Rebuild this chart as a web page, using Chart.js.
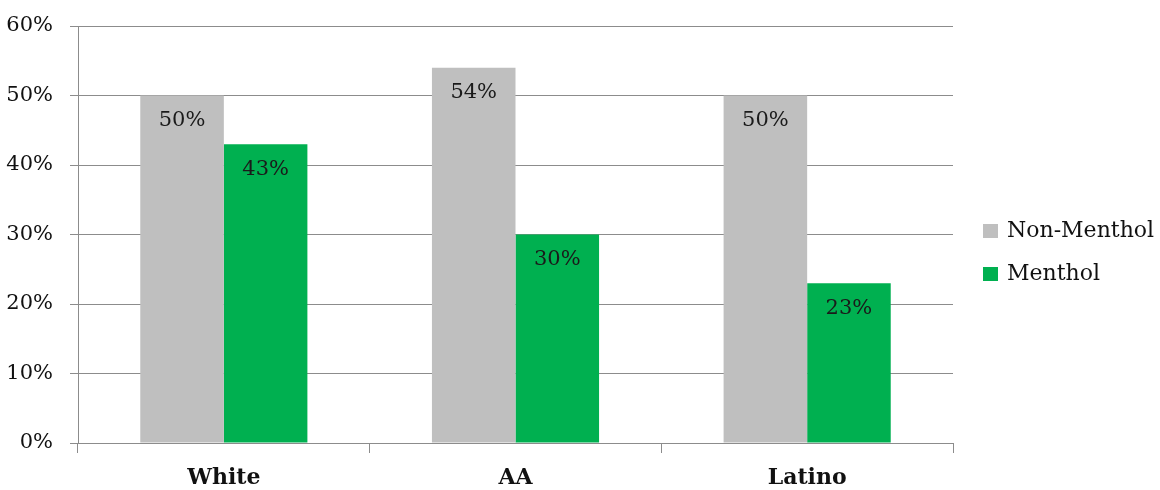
<!DOCTYPE html>
<html>
<head>
<meta charset="utf-8">
<script src="https://cdn.jsdelivr.net/npm/chart.js@4"></script>
<style>
html,body{margin:0;padding:0;background:#fff;}
#wrap{width:1160px;height:490px;position:relative;}
</style>
</head>
<body>
<div id="wrap"><canvas id="c" width="1160" height="490"></canvas></div>
<script>
const categories = ["White", "AA", "Latino"];
const nonMenthol = [50, 54, 50];
const menthol = [43, 30, 23];
const seriesNames = ["Non-Menthol", "Menthol"];
const yTicks = [0, 10, 20, 30, 40, 50, 60];

const FONT = "'DejaVu Serif', serif";
const GRID = "#8c8c8c";

const valueLabels = {
  id: "valueLabels",
  afterDatasetsDraw(chart) {
    const ctx = chart.ctx;
    ctx.save();
    ctx.font = "21px " + FONT;
    ctx.fillStyle = "#1a1a1a";
    ctx.textAlign = "center";
    ctx.textBaseline = "middle";
    chart.data.datasets.forEach((ds, i) => {
      chart.getDatasetMeta(i).data.forEach((bar, j) => {
        ctx.fillText(ds.data[j] + "%", bar.x, bar.y + 25);
      });
    });
    ctx.restore();
  }
};

const sideLegend = {
  id: "sideLegend",
  afterDraw(chart) {
    const ctx = chart.ctx;
    ctx.save();
    ctx.font = "22px " + FONT;
    ctx.textBaseline = "middle";
    ctx.textAlign = "left";
    const x0 = 983, ys = [231, 274];
    chart.data.datasets.forEach((ds, i) => {
      ctx.fillStyle = ds.backgroundColor;
      ctx.fillRect(x0, ys[i] - 7, 15, 14);
      ctx.fillStyle = "#111";
      ctx.fillText(ds.label, x0 + 24, ys[i]);
    });
    ctx.restore();
  }
};

new Chart(document.getElementById("c"), {
  type: "bar",
  data: {
    labels: categories,
    datasets: [
      { label: seriesNames[0], data: nonMenthol, backgroundColor: "#bfbfbf" },
      { label: seriesNames[1], data: menthol, backgroundColor: "#00b050" }
    ]
  },
  options: {
    responsive: false,
    animation: false,
    devicePixelRatio: 1,
    layout: { padding: { top: 26, right: 207, bottom: 0, left: 0 } },
    datasets: { bar: { categoryPercentage: 0.573, barPercentage: 1.0 } },
    plugins: { legend: { display: false }, tooltip: { enabled: false } },
    scales: {
      x: {
        afterFit: s => { s.height = 47; s.paddingLeft = 0; s.paddingRight = 0; },
        grid: { drawOnChartArea: false, drawTicks: true, tickLength: 10, color: GRID, offset: true },
        border: { color: GRID, width: 1 },
        ticks: { font: { family: FONT, size: 22, weight: "bold" }, color: "#111", padding: 12 }
      },
      y: {
        min: 0, max: 60,
        afterFit: s => { s.width = 78; s.paddingTop = 0; s.paddingBottom = 0; },
        afterBuildTicks: s => { s.ticks = yTicks.map(v => ({ value: v })); },
        grid: { color: GRID, tickLength: 8, lineWidth: 1 },
        border: { color: GRID, width: 1 },
        ticks: { stepSize: 10, callback: v => v + "%", font: { family: FONT, size: 21 }, color: "#111", padding: 17 }
      }
    }
  },
  plugins: [valueLabels, sideLegend]
});
</script>
</body>
</html>
